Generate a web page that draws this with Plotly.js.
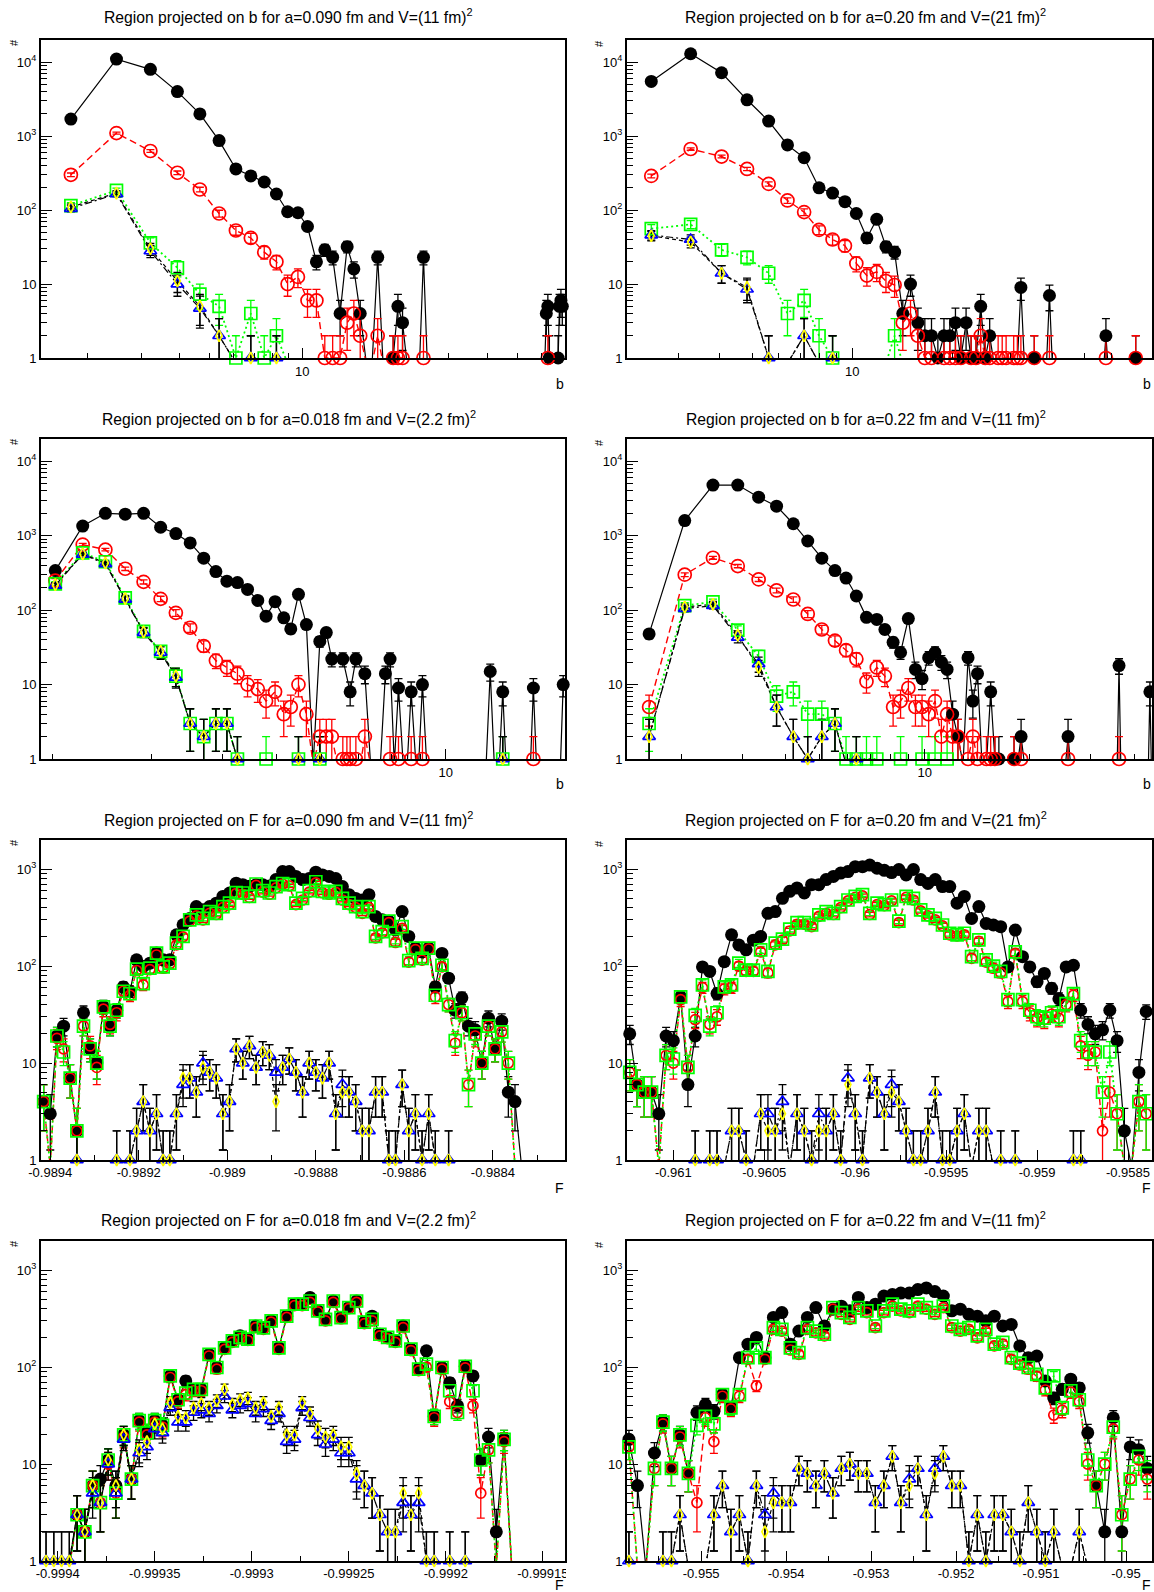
<!DOCTYPE html>
<html>
<head>
<meta charset="utf-8">
<script src="https://cdn.plot.ly/plotly-3.0.1.min.js"></script>
<style>
  html, body { margin: 0; padding: 0; background: #ffffff; }
  #chart { width: 1154px; height: 1592px; }
</style>
</head>
<body>
<div id="chart"></div>
<script>
// ---------------- titles and tick labels ----------------
const titles = [
  'Region projected on b for a=0.090 fm and V=(11 fm)<sup>2</sup>',
  'Region projected on b for a=0.20 fm and V=(21 fm)<sup>2</sup>',
  'Region projected on b for a=0.018 fm and V=(2.2 fm)<sup>2</sup>',
  'Region projected on b for a=0.22 fm and V=(11 fm)<sup>2</sup>',
  'Region projected on F for a=0.090 fm and V=(11 fm)<sup>2</sup>',
  'Region projected on F for a=0.20 fm and V=(21 fm)<sup>2</sup>',
  'Region projected on F for a=0.018 fm and V=(2.2 fm)<sup>2</sup>',
  'Region projected on F for a=0.22 fm and V=(11 fm)<sup>2</sup>'
];
const b_ticks = [10];
const b_labels = ['10'];
const y_ticks = [1, 10, 100, 1000, 10000];
const y_labels = ['1', '10', '10<sup>2</sup>', '10<sup>3</sup>', '10<sup>4</sup>'];
const f1_ticks = [-0.9894, -0.9892, -0.989, -0.9888, -0.9886, -0.9884];
const f1_labels = ['-0.9894', '-0.9892', '-0.989', '-0.9888', '-0.9886', '-0.9884'];
const f2_ticks = [-0.961, -0.9605, -0.96, -0.9595, -0.959, -0.9585];
const f2_labels = ['-0.961', '-0.9605', '-0.96', '-0.9595', '-0.959', '-0.9585'];
const f3_ticks = [-0.9994, -0.99935, -0.9993, -0.99925, -0.9992, -0.99915];
const f3_labels = ['-0.9994', '-0.99935', '-0.9993', '-0.99925', '-0.9992', '-0.99915'];
const f4_ticks = [-0.955, -0.954, -0.953, -0.952, -0.951, -0.95];
const f4_labels = ['-0.955', '-0.954', '-0.953', '-0.952', '-0.951', '-0.95'];

// ---------------- b projection, a=0.090 fm, V=(11 fm)^2 ----------------
const b1_black_x = [1.77, 2.49, 3.21, 3.93, 4.65, 5.37, 6.09, 6.81, 7.53, 8.25, 8.97, 9.69, 10.41, 11.13, 11.85, 12.57, 13.29, 14.01, 14.73, 15.45, 16.17, 16.89, 17.61, 18.33, 19.05, 19.77, 20.49, 21.21, 21.93, 24.09, 24.81, 25.53, 61.53, 62.25, 62.97, 63.69, 64.41, 67.29, 68.01, 68.73, 69.45, 70.17];
const b1_black_y = [1700, 11000, 8000, 4000, 2000, 870, 360, 290, 240, 165, 95, 92, 60, 20, 29, 23, 4, 32, 16, 4, 0, 0, 23, 0, 0, 1, 5, 3, 0, 0, 23, 0, 0, 4, 5, 1, 0, 0, 1, 5, 6, 5];
const b1_red_x = [1.77, 2.49, 3.21, 3.93, 4.65, 5.37, 6.09, 6.81, 7.53, 8.25, 8.97, 9.69, 10.41, 11.13, 11.85, 12.57, 13.29, 14.01, 14.73, 15.45, 16.17, 16.89, 17.61, 18.33, 19.05, 19.77, 20.49, 21.21, 21.93, 24.09, 24.81, 25.53, 62.25, 62.97, 63.69];
const b1_red_y = [300, 1100, 630, 320, 190, 90, 53, 42, 27, 20, 10, 12.5, 6, 6, 1, 1, 1, 3, 4, 2, 0, 0, 2, 0, 0, 1, 1, 1, 0, 0, 1, 0, 0, 1, 0];
const b1_low_x = [1.77, 2.49, 3.21, 3.93, 4.65, 5.37, 6.09, 6.81, 7.53, 8.25, 8.97];
const b1_green_y = [115, 185, 36, 16.6, 7.3, 5, 1, 4, 1, 2, 0];
const b1_blue_y = [105, 165, 28, 10, 4.7, 2, 0, 1, 0, 1, 0];
const b1_yellow_y = [110, 170, 30, 11, 5, 2, 0, 1, 0, 1, 0];

// ---------------- b projection, a=0.20 fm, V=(21 fm)^2 ----------------
const b2_black_x = [2.49, 3.27, 4.05, 4.83, 5.61, 6.39, 7.17, 7.95, 8.73, 9.51, 10.29, 11.07, 11.85, 12.63, 13.41, 14.19, 14.97, 15.75, 16.53, 17.31, 18.09, 18.87, 19.65, 20.43, 21.21, 21.99, 22.77, 23.55, 24.33, 25.11, 25.89, 26.67, 31.35, 32.13, 32.91, 34.47, 35.25, 36.03, 38.37, 39.15, 39.93, 57.09, 57.87, 58.65, 70.35, 71.13, 71.91];
const b2_black_y = [5500, 13000, 7200, 3100, 1600, 760, 510, 200, 170, 130, 90, 42, 75, 32, 27, 4, 10, 3, 2, 2, 1, 2, 2, 3, 1, 3, 1, 1, 5, 1, 2, 0, 0, 9, 0, 0, 1, 0, 0, 7, 0, 0, 2, 0, 0, 1, 0];
const b2_red_x = [2.49, 3.27, 4.05, 4.83, 5.61, 6.39, 7.17, 7.95, 8.73, 9.51, 10.29, 11.07, 11.85, 12.63, 13.41, 14.19, 14.97, 15.75, 16.53, 17.31, 18.09, 18.87, 19.65, 20.43, 21.21, 21.99, 22.77, 23.55, 24.33, 25.11, 25.89, 26.67, 27.45, 28.23, 29.01, 29.79, 30.57, 31.35, 32.13, 32.91, 34.47, 35.25, 36.03, 38.37, 39.15, 39.93, 57.09, 57.87, 58.65, 70.35, 71.13, 71.91];
const b2_red_y = [290, 670, 530, 360, 226, 135, 94, 54, 40, 33, 19, 13, 14.6, 11, 9.7, 3, 4, 2, 1, 1, 0, 1, 1, 1, 1, 0, 1, 1, 2, 1, 1, 0, 1, 1, 1, 0, 1, 1, 1, 0, 0, 1, 0, 0, 1, 0, 0, 1, 0, 0, 1, 0];
const b2_green_x = [2.49, 3.27, 4.05, 4.83, 5.61, 6.39, 7.17, 7.95, 8.73, 9.51, 12.63, 13.41, 14.19];
const b2_green_y = [56, 64, 29, 23, 14, 4, 6, 2, 1, 0, 0, 2, 0];
const b2_low_x = [2.49, 3.27, 4.05, 4.83, 5.61, 6.39, 7.17, 7.95, 8.73, 9.51];
const b2_blue_y = [46, 40, 14, 8.5, 1, 0, 2, 0, 1, 0];
const b2_yellow_y = [45, 37, 14, 9, 1, 0, 2, 0, 1, 0];

// ---------------- b projection, a=0.018 fm, V=(2.2 fm)^2 ----------------
const b3_black_x = [2.02, 2.26, 2.48, 2.69, 2.90, 3.11, 3.31, 3.51, 3.71, 3.90, 4.08, 4.26, 4.44, 4.63, 4.79, 4.97, 5.15, 5.30, 5.47, 5.65, 5.81, 5.97, 6.13, 6.27, 6.56, 6.76, 6.92, 7.18, 7.35, 7.65, 7.81, 7.96, 8.10, 8.24, 8.40, 8.54, 8.68, 8.85, 8.95, 9.09, 9.25, 11.8, 12.0, 12.2, 12.45, 12.63, 12.8, 14.15, 14.32, 14.5, 16.0, 16.18];
const b3_black_y = [340, 1350, 2000, 1950, 2000, 1300, 1070, 800, 500, 330, 245, 235, 190, 135, 83, 130, 79, 56, 163, 64, 0, 38, 50, 22, 22, 8, 22, 14, 0, 0, 14, 22, 0, 9, 0, 0, 8, 0, 0, 10, 0, 0, 15, 0, 0, 8, 0, 0, 9, 0, 0, 10];
const b3_red_x = [2.02, 2.26, 2.48, 2.69, 2.90, 3.11, 3.31, 3.51, 3.71, 3.90, 4.08, 4.26, 4.44, 4.63, 4.79, 4.97, 5.15, 5.30, 5.47, 5.65, 5.81, 5.97, 6.13, 6.27, 6.42, 6.56, 6.67, 6.76, 6.92, 7.05, 7.18, 7.35, 7.81, 7.96, 8.10, 8.24, 8.40, 8.54, 8.68, 8.85, 8.95, 9.09, 9.25, 14.15, 14.32, 14.5];
const b3_red_y = [250, 760, 650, 360, 240, 142, 92, 58, 33, 21, 17, 14, 10, 8.7, 6, 8, 4, 5, 10, 4, 0, 2, 2, 2, 0, 1, 1, 1, 1, 0, 2, 0, 0, 1, 0, 1, 0, 0, 1, 0, 0, 1, 0, 0, 1, 0];
const b3_low_x = [2.02, 2.26, 2.48, 2.69, 2.90, 3.11, 3.31, 3.51, 3.71, 3.90, 4.08, 4.26, 4.44, 4.63, 4.79, 4.97, 5.15, 5.30, 5.47, 5.65, 5.81, 5.97, 6.13, 12.45, 12.63, 12.8];
const b3_green_y = [226, 590, 447, 146, 52, 28, 13, 3, 2, 3, 3, 1, 0, 0, 1, 0, 0, 0, 1, 0, 0, 1, 0, 0, 1, 0];
const b3_blue_y = [215, 560, 420, 140, 50, 27, 12.5, 3, 2, 3, 3, 1, 0, 0, 0, 0, 0, 0, 1, 0, 0, 1, 0, 0, 1, 0];
const b3_yellow_y = [220, 570, 430, 143, 51, 28, 13, 3, 2, 3, 3, 1, 0, 0, 0, 0, 0, 0, 1, 0, 0, 1, 0, 0, 1, 0];

// ---------------- b projection, a=0.22 fm, V=(11 fm)^2 ----------------
const b4_black_x = [1.62, 2.05, 2.47, 2.91, 3.34, 3.76, 4.20, 4.62, 5.07, 5.53, 5.95, 6.37, 6.81, 7.29, 7.69, 8.12, 8.53, 8.98, 9.41, 9.83, 10.27, 10.71, 11.17, 11.60, 12.03, 12.46, 12.89, 13.32, 13.75, 14.18, 14.61, 15.04, 15.47, 15.90, 16.33, 16.76, 17.62, 18.05, 18.48, 18.91, 19.34, 25.36, 25.79, 26.22, 35.68, 36.11, 36.54, 43.85, 44.28, 44.71];
const b4_black_y = [48, 1600, 4800, 4800, 3300, 2500, 1450, 850, 500, 340, 270, 155, 80, 75, 55, 37, 27, 77, 16, 12, 23, 27, 20, 16, 4, 2, 0, 23, 6, 14, 0, 0, 8, 1, 1, 0, 0, 1, 0, 2, 0, 0, 2, 0, 0, 18, 0, 0, 8, 0];
const b4_red_x = [1.62, 2.05, 2.47, 2.91, 3.34, 3.76, 4.20, 4.62, 5.07, 5.53, 5.95, 6.37, 6.81, 7.29, 7.69, 8.12, 8.53, 8.98, 9.41, 9.83, 10.27, 10.71, 11.17, 11.60, 12.03, 12.46, 12.89, 13.32, 13.75, 14.18, 14.61, 15.04, 15.47, 15.90, 16.33, 17.62, 18.05, 18.48, 18.91, 19.34, 25.36, 25.79, 26.22, 35.68, 36.11, 36.54];
const b4_red_y = [5, 300, 506, 391, 259, 184, 139, 89, 55, 39, 29, 22, 11, 17, 13, 5, 6, 9, 5, 5, 4, 6, 2, 4, 2, 2, 0, 1, 2, 1, 0, 1, 1, 1, 0, 0, 1, 0, 1, 0, 0, 1, 0, 0, 1, 0];
const b4_green_x = [1.62, 2.05, 2.47, 2.91, 3.34, 3.76, 4.20, 4.62, 5.07, 5.53, 5.95, 6.37, 6.81, 7.29, 7.69, 8.12, 8.53, 8.98, 9.41, 9.83, 10.27, 10.71, 11.17, 11.60, 12.03];
const b4_green_y = [3, 115, 129, 54, 24, 7, 8, 4, 4, 3, 1, 1, 1, 1, 0, 0, 1, 0, 0, 1, 0, 1, 0, 1, 0];
const b4_low_x = [1.62, 2.05, 2.47, 2.91, 3.34, 3.76, 4.20, 4.62, 5.07, 5.53, 5.95, 6.37, 6.81];
const b4_blue_y = [2, 105, 115, 43, 19, 5, 2, 1, 2, 3, 0, 1, 0];
const b4_yellow_y = [2, 110, 120, 46, 17, 5, 2, 1, 2, 3, 0, 1, 0];

// ---------------- F projection, a=0.090 fm, V=(11 fm)^2 ----------------
const f1_x = [-0.989415, -0.989400, -0.989385, -0.989370, -0.989355, -0.989340, -0.989325, -0.989310, -0.989295, -0.989280,
  -0.989265, -0.989250, -0.989235, -0.989220, -0.989205, -0.989190, -0.989175, -0.989160, -0.989145, -0.989130,
  -0.989115, -0.989100, -0.989085, -0.989070, -0.989055, -0.989040, -0.989025, -0.989010, -0.988995, -0.988980,
  -0.988965, -0.988950, -0.988935, -0.988920, -0.988905, -0.988890, -0.988875, -0.988860, -0.988845, -0.988830,
  -0.988815, -0.988800, -0.988785, -0.988770, -0.988755, -0.988740, -0.988725, -0.988710, -0.988695, -0.988680,
  -0.988665, -0.988650, -0.988635, -0.988620, -0.988605, -0.988590, -0.988575, -0.988560, -0.988545, -0.988530,
  -0.988515, -0.988500, -0.988485, -0.988470, -0.988455, -0.988440, -0.988425, -0.988410, -0.988395, -0.988380,
  -0.988365, -0.988350, -0.988335];
const f1_black = [4, 3, 19, 24, 7, 2, 33, 14, 10, 38,
  24, 35, 61, 55, 116, 99, 107, 136, 116, 116,
  210, 266, 310, 411, 380, 411, 445, 522, 567, 716,
  690, 665, 690, 690, 670, 780, 943, 943, 840, 780,
  800, 930, 870, 840, 800, 660, 545, 498, 480, 545,
  325, 300, 290, 236, 365, 202, 153, 140, 153, 61,
  135, 75, 35, 47, 24, 22, 10, 29, 14, 27,
  5, 4, 0];
const f1_red = [4, 0, 18, 14, 7, 2, 24, 15, 9, 36,
  25, 33, 55, 50, 90, 64, 92, 130, 95, 105,
  165, 200, 290, 330, 300, 350, 340, 400, 430, 560,
  550, 510, 680, 580, 550, 640, 700, 670, 430, 480,
  580, 720, 570, 550, 575, 480, 430, 400, 350, 400,
  195, 220, 280, 175, 245, 110, 148, 115, 150, 48,
  98, 40, 16, 33, 6, 19, 10, 24, 14, 21,
  10, 0, 0];
const f1_green = [4, 0, 19, 13, 7, 2, 24, 14, 10, 38,
  24, 35, 55, 52, 93, 66, 95, 136, 98, 107,
  172, 202, 300, 337, 310, 365, 350, 411, 445, 573,
  567, 522, 702, 600, 567, 660, 710, 690, 445, 498,
  600, 740, 590, 567, 590, 498, 445, 411, 365, 411,
  202, 226, 290, 183, 255, 114, 153, 120, 153, 50,
  102, 40, 17, 33, 6, 20, 10, 24, 14, 21,
  10, 0, 0];
const f1_blue = [0, 0, 0, 0, 0, 1, 0, 0, 0, 0,
  0, 1, 0, 1, 2, 4, 2, 3, 1, 1,
  3, 6, 7, 5, 10, 8, 7, 3, 4, 14,
  10, 15, 9, 13, 12, 8, 9, 11, 8, 5,
  10, 8, 7, 10, 3, 6, 5, 4, 2, 2,
  5, 5, 1, 1, 6, 2, 3, 1, 3, 1,
  0, 1, 0, 0, 0, 0, 0, 0, 0, 0,
  0, 0, 0];
const f1_yellow = [0, 0, 0, 0, 0, 1, 0, 0, 0, 0,
  0, 1, 0, 1, 2, 4, 2, 3, 1, 1,
  3, 7, 7, 5, 9, 8, 7, 3, 4, 14,
  10, 15, 9, 13, 12, 4, 9, 11, 8, 5,
  10, 8, 7, 10, 3, 5, 5, 4, 2, 2,
  5, 5, 1, 1, 6, 2, 3, 1, 3, 1,
  0, 1, 0, 0, 0, 0, 0, 0, 0, 0,
  0, 0, 0];

// ---------------- F projection, a=0.20 fm, V=(21 fm)^2 ----------------
const f2_x = [-0.96124, -0.96120, -0.96116, -0.96112, -0.96108, -0.96104, -0.96100, -0.96096, -0.96092, -0.96088,
  -0.96084, -0.96080, -0.96076, -0.96072, -0.96068, -0.96064, -0.96060, -0.96056, -0.96052, -0.96048,
  -0.96044, -0.96040, -0.96036, -0.96032, -0.96028, -0.96024, -0.96020, -0.96016, -0.96012, -0.96008,
  -0.96004, -0.96000, -0.95996, -0.95992, -0.95988, -0.95984, -0.95980, -0.95976, -0.95972, -0.95968,
  -0.95964, -0.95960, -0.95956, -0.95952, -0.95948, -0.95944, -0.95940, -0.95936, -0.95932, -0.95928,
  -0.95924, -0.95920, -0.95916, -0.95912, -0.95908, -0.95904, -0.95900, -0.95896, -0.95892, -0.95888,
  -0.95884, -0.95880, -0.95876, -0.95872, -0.95868, -0.95864, -0.95860, -0.95856, -0.95852, -0.95848,
  -0.95844, -0.95840];
const f2_black = [20, 6, 5, 5, 3, 19, 17, 48, 6, 19,
  98, 88, 52, 111, 210, 165, 147, 185, 202, 350,
  365, 500, 590, 640, 567, 690, 690, 780, 840, 910,
  943, 1060, 1060, 1100, 1020, 970, 920, 990, 870, 990,
  780, 710, 780, 660, 660, 445, 522, 310, 411, 275,
  265, 255, 98, 235, 125, 98, 69, 84, 59, 46,
  98, 102, 35, 25, 20, 22, 35, 17, 2, 0,
  8, 34];
const f2_red = [8, 6, 5, 5, 0, 12, 10, 45, 9, 28,
  60, 25, 30, 58, 60, 100, 88, 88, 140, 85,
  165, 185, 230, 270, 270, 255, 325, 350, 340, 400,
  470, 510, 530, 340, 430, 420, 470, 280, 510, 480,
  370, 330, 300, 260, 210, 205, 210, 120, 180, 110,
  95, 85, 43, 135, 43, 33, 29, 28, 32, 29,
  40, 50, 15, 12, 13, 2, 5, 3, 0, 0,
  4, 3];
const f2_green = [8, 6, 5, 5, 0, 12, 11, 48, 9, 31,
  64, 24, 33, 61, 64, 107, 91, 91, 147, 88,
  172, 190, 240, 280, 280, 265, 337, 365, 350, 411,
  480, 522, 545, 350, 445, 430, 480, 290, 522, 498,
  380, 337, 310, 265, 218, 210, 218, 125, 186, 116,
  100, 88, 45, 140, 45, 35, 30, 29, 33, 30,
  41, 52, 17, 13, 13, 5, 13, 3, 0, 0,
  4, 3];
const f2_blue = [0, 0, 0, 0, 0, 0, 0, 0, 0, 1,
  0, 1, 1, 0, 2, 2, 1, 0, 3, 3,
  2, 4, 0, 3, 2, 1, 3, 2, 3, 1,
  7, 3, 1, 7, 5, 3, 6, 4, 2, 1,
  1, 2, 5, 1, 1, 2, 3, 0, 2, 2,
  0, 1, 0, 1, 0, 0, 0, 0, 0, 0,
  0, 1, 1, 0, 0, 0, 0, 0, 0, 0,
  0, 0];
const f2_yellow = [0, 0, 0, 0, 0, 0, 0, 0, 0, 1,
  0, 1, 1, 0, 2, 2, 1, 0, 3, 2,
  2, 3, 0, 3, 2, 1, 2, 2, 3, 1,
  6, 3, 1, 7, 5, 3, 5, 4, 2, 1,
  1, 2, 5, 1, 1, 2, 3, 0, 2, 2,
  0, 1, 0, 1, 0, 0, 0, 0, 0, 0,
  0, 1, 1, 0, 0, 0, 0, 0, 0, 0,
  0, 0];

// ---------------- F projection, a=0.018 fm, V=(2.2 fm)^2 ----------------
const f3_x = [-0.999406, -0.999402, -0.999398, -0.999394, -0.999390, -0.999386, -0.999382, -0.999378, -0.999374, -0.999370,
  -0.999366, -0.999362, -0.999358, -0.999354, -0.999350, -0.999346, -0.999342, -0.999338, -0.999334, -0.999330,
  -0.999326, -0.999322, -0.999318, -0.999314, -0.999310, -0.999306, -0.999302, -0.999298, -0.999294, -0.999290,
  -0.999286, -0.999282, -0.999278, -0.999274, -0.999270, -0.999266, -0.999262, -0.999258, -0.999254, -0.999250,
  -0.999246, -0.999242, -0.999238, -0.999234, -0.999230, -0.999226, -0.999222, -0.999218, -0.999214, -0.999210,
  -0.999206, -0.999202, -0.999198, -0.999194, -0.999190, -0.999186, -0.999182, -0.999178, -0.999174, -0.999170,
  -0.999166];
const f3_black = [0, 0, 0, 0, 3, 2, 6, 7, 11, 6,
  20, 7, 28, 21, 28, 25, 81, 46, 72, 59,
  59, 135, 99, 158, 186, 210, 194, 265, 254, 300,
  158, 335, 445, 445, 522, 380, 311, 480, 324, 411,
  480, 290, 335, 218, 202, 186, 265, 153, 95, 147,
  31, 99, 69, 40, 102, 81, 11, 19, 2, 18,
  0];
const f3_red = [0, 0, 0, 0, 3, 2, 6, 4, 10, 5,
  19, 7, 27, 20, 27, 24, 78, 44, 52, 57,
  57, 130, 95, 152, 180, 196, 188, 255, 245, 290,
  152, 325, 430, 430, 465, 370, 300, 465, 315, 400,
  465, 280, 300, 210, 196, 180, 255, 148, 92, 100,
  30, 95, 44, 34, 98, 40, 5, 14, 0, 17,
  0];
const f3_green = [0, 0, 0, 0, 3, 2, 6, 4, 11, 5,
  20, 7, 28, 21, 28, 25, 81, 46, 54, 59,
  59, 135, 99, 158, 186, 202, 194, 265, 254, 300,
  158, 335, 445, 445, 480, 380, 311, 480, 324, 411,
  480, 290, 311, 218, 202, 186, 265, 153, 95, 107,
  31, 99, 57, 34, 102, 57, 11, 14, 0, 18,
  0];
const f3_blue = [1, 1, 1, 1, 3, 2, 5, 4, 10, 5,
  18, 7, 13, 15, 23, 21, 38, 27, 27, 34,
  36, 33, 40, 50, 36, 40, 42, 33, 37, 28,
  33, 17, 18, 38, 30, 20, 16, 18, 13, 13,
  7, 6, 5, 3, 2, 2, 4, 3, 4, 1,
  1, 0, 1, 0, 1, 0, 0, 0, 0, 0,
  0];
const f3_yellow = [1, 1, 1, 1, 3, 2, 6, 4, 11, 6,
  20, 7, 14, 17, 26, 23, 43, 31, 30, 38,
  42, 38, 45, 59, 41, 46, 48, 38, 43, 31,
  38, 20, 20, 43, 33, 23, 19, 20, 15, 15,
  8, 6, 5, 3, 2, 2, 5, 3, 5, 1,
  1, 0, 1, 0, 1, 0, 0, 0, 0, 0,
  0];

// ---------------- F projection, a=0.22 fm, V=(11 fm)^2 ----------------
const f4_x = [-0.95585, -0.95575, -0.95565, -0.95555, -0.95545, -0.95535, -0.95525, -0.95515, -0.95505, -0.95495,
  -0.95485, -0.95475, -0.95465, -0.95455, -0.95445, -0.95435, -0.95425, -0.95415, -0.95405, -0.95395,
  -0.95385, -0.95375, -0.95365, -0.95355, -0.95345, -0.95335, -0.95325, -0.95315, -0.95305, -0.95295,
  -0.95285, -0.95275, -0.95265, -0.95255, -0.95245, -0.95235, -0.95225, -0.95215, -0.95205, -0.95195,
  -0.95185, -0.95175, -0.95165, -0.95155, -0.95145, -0.95135, -0.95125, -0.95115, -0.95105, -0.95095,
  -0.95085, -0.95075, -0.95065, -0.95055, -0.95045, -0.95035, -0.95025, -0.95015, -0.95005, -0.94995,
  -0.94985, -0.94975];
const f4_black = [18, 6, 0, 13, 27, 9, 20, 8, 34, 41,
  35, 52, 38, 125, 172, 202, 125, 325, 365, 172,
  235, 325, 411, 265, 395, 425, 380, 522, 411, 445,
  540, 560, 580, 580, 630, 655, 600, 540, 380, 395,
  350, 335, 300, 335, 265, 275, 165, 125, 130, 72,
  48, 59, 75, 61, 21, 6, 2, 30, 2, 15,
  14, 9];
const f4_red = [15, 0, 0, 9, 26, 9, 19, 8, 4, 30,
  17, 50, 37, 50, 120, 64, 120, 245, 235, 150,
  135, 245, 225, 210, 395, 350, 310, 395, 365, 255,
  365, 425, 380, 365, 425, 395, 350, 410, 255, 235,
  245, 200, 235, 165, 172, 120, 105, 95, 80, 58,
  32, 36, 55, 44, 10, 6, 10, 23, 3, 7,
  11, 7];
const f4_green = [15, 0, 0, 9, 27, 9, 20, 8, 25, 31,
  26, 52, 38, 52, 125, 158, 125, 255, 245, 158,
  141, 255, 235, 218, 411, 365, 325, 411, 380, 265,
  380, 445, 395, 380, 445, 411, 365, 425, 265, 245,
  255, 210, 245, 172, 180, 125, 110, 99, 84, 61,
  81, 38, 57, 46, 11, 6, 10, 24, 3, 7,
  12, 8];
const f4_blue = [1, 0, 0, 0, 1, 1, 3, 0, 0, 0,
  3, 6, 2, 3, 1, 6, 3, 5, 4, 4,
  9, 8, 6, 8, 5, 9, 10, 8, 8, 4,
  6, 12, 4, 7, 9, 3, 9, 12, 6, 6,
  1, 3, 1, 3, 3, 2, 1, 4, 2, 1,
  2, 0, 0, 2, 0, 0, 0, 0, 0, 0,
  0, 0];
const f4_yellow = [1, 0, 0, 0, 1, 1, 3, 0, 0, 0,
  3, 6, 2, 3, 1, 6, 2, 4, 4, 4,
  9, 8, 6, 8, 5, 9, 10, 8, 8, 4,
  6, 12, 4, 6, 9, 3, 8, 12, 6, 6,
  1, 3, 1, 3, 3, 2, 1, 4, 2, 1,
  2, 0, 0, 2, 0, 0, 0, 0, 0, 0,
  0, 0];

// ---------------- page geometry (pixels) ----------------
const W = 1154, H = 1592;
const FONT = '"Liberation Sans", Arial, Helvetica, sans-serif';
const COLS = [[41, 565], [627, 1152]];
const ROWS = [[40, 358], [439, 759], [840, 1160], [1241, 1561]];
const TITLE_Y = [16, 418, 819, 1219];
const AXIS_TITLE_Y = [384, 784, 1188, 1585];
// empty bins sit just under the log floor so the polyline drops onto the axis
const EMPTY_DRAW = 0.85;

const STYLE = {
  black:  {symbol: 'circle',            mcolor: '#000000', lcolor: '#000000', dash: 'solid',            lw: 1.2, ecolor: '#000000'},
  red:    {symbol: 'circle-open',       mcolor: '#ff0000', lcolor: '#ff0000', dash: '7px,4px',          lw: 1.4, ecolor: '#ff0000'},
  green:  {symbol: 'square-open',       mcolor: '#00ff00', lcolor: '#00ff00', dash: '2px,3px',          lw: 1.8, ecolor: '#00ff00'},
  blue:   {symbol: 'triangle-up-open',  mcolor: '#0000ff', lcolor: '#000000', dash: '7px,3px,2px,3px',  lw: 1.2, ecolor: '#000000'},
  yellow: {symbol: 'diamond-tall-open', mcolor: '#ffff00', lcolor: '#000000', dash: '4px,3px',          lw: 1.2, ecolor: '#000000'}
};
const SIZE_B = {black: 13, red: 13, green: 12, blue: 11, yellow: 8.5};
const SIZE_F = {black: 13, red: 10, green: 12, blue: 11, yellow: 8.5};
const ORDER = ['black', 'red', 'green', 'blue', 'yellow'];

const panels = [
  {col: 0, row: 0, kind: 'b', xr: [1.415, 71.6], ytop: 4.3,
   s: {black: [b1_black_x, b1_black_y], red: [b1_red_x, b1_red_y], green: [b1_low_x, b1_green_y], blue: [b1_low_x, b1_blue_y], yellow: [b1_low_x, b1_yellow_y]}},
  {col: 1, row: 0, kind: 'b', xr: [2.105, 79.6], ytop: 4.3,
   s: {black: [b2_black_x, b2_black_y], red: [b2_red_x, b2_red_y], green: [b2_green_x, b2_green_y], blue: [b2_low_x, b2_blue_y], yellow: [b2_low_x, b2_yellow_y]}},
  {col: 0, row: 1, kind: 'b', xr: [1.905, 16.3], ytop: 4.3,
   s: {black: [b3_black_x, b3_black_y], red: [b3_red_x, b3_red_y], green: [b3_low_x, b3_green_y], blue: [b3_low_x, b3_blue_y], yellow: [b3_low_x, b3_yellow_y]}},
  {col: 1, row: 1, kind: 'b', xr: [1.40, 44.9], ytop: 4.3,
   s: {black: [b4_black_x, b4_black_y], red: [b4_red_x, b4_red_y], green: [b4_green_x, b4_green_y], blue: [b4_low_x, b4_blue_y], yellow: [b4_low_x, b4_yellow_y]}},
  {col: 0, row: 2, kind: 'F', xr: [-0.989421, -0.988237], ytop: 3.3, ticks: f1_ticks, labels: f1_labels,
   s: {black: [f1_x, f1_black], red: [f1_x, f1_red], green: [f1_x, f1_green], blue: [f1_x, f1_blue], yellow: [f1_x, f1_yellow]}},
  {col: 1, row: 2, kind: 'F', xr: [-0.961255, -0.958368], ytop: 3.3, ticks: f2_ticks, labels: f2_labels,
   s: {black: [f2_x, f2_black], red: [f2_x, f2_red], green: [f2_x, f2_green], blue: [f2_x, f2_blue], yellow: [f2_x, f2_yellow]}},
  {col: 0, row: 3, kind: 'F', xr: [-0.9994086, -0.9991386], ytop: 3.3, ticks: f3_ticks, labels: f3_labels,
   s: {black: [f3_x, f3_black], red: [f3_x, f3_red], green: [f3_x, f3_green], blue: [f3_x, f3_blue], yellow: [f3_x, f3_yellow]}},
  {col: 1, row: 3, kind: 'F', xr: [-0.955873, -0.949694], ytop: 3.3, ticks: f4_ticks, labels: f4_labels,
   s: {black: [f4_x, f4_black], red: [f4_x, f4_red], green: [f4_x, f4_green], blue: [f4_x, f4_blue], yellow: [f4_x, f4_yellow]}}
];

const traces = [];
const annotations = [];
const shapes = [];
const layout = {
  width: W, height: H,
  margin: {l: 0, r: 0, t: 0, b: 0, pad: 0},
  paper_bgcolor: '#ffffff', plot_bgcolor: '#ffffff',
  showlegend: false, hovermode: false,
  font: {family: FONT, size: 13, color: '#000000'}
};

const axisBase = {
  showline: true, mirror: true, linecolor: '#000000', linewidth: 2,
  ticks: 'inside', tickcolor: '#000000', tickwidth: 1,
  showgrid: false, zeroline: false, fixedrange: true,
  tickfont: {family: FONT, size: 13, color: '#000000'}
};

panels.forEach((p, i) => {
  const n = i + 1;
  const xid = n === 1 ? 'x' : 'x' + n;
  const yid = n === 1 ? 'y' : 'y' + n;
  const oid = 'y' + (n + 8);
  const [px0, px1] = COLS[p.col];
  const [py0, py1] = ROWS[p.row];
  const xdom = [px0 / W, px1 / W];
  const ydom = [1 - py1 / H, 1 - py0 / H];

  // x axis
  let xa;
  if (p.kind === 'b') {
    const minor = [];
    for (let d = 0; d <= 2; d++) {
      for (let m = 2; m <= 9; m++) {
        const v = m * Math.pow(10, d);
        if (v > p.xr[0] && v < p.xr[1]) minor.push(v);
      }
    }
    xa = Object.assign({}, axisBase, {
      type: 'log', range: [Math.log10(p.xr[0]), Math.log10(p.xr[1])],
      tickmode: 'array', tickvals: b_ticks, ticktext: b_labels, ticklen: 10,
      minor: {tickmode: 'array', tickvals: minor, ticks: 'inside', ticklen: 5, tickcolor: '#000000', tickwidth: 1, showgrid: false}
    });
  } else {
    const step = p.ticks[1] - p.ticks[0];
    const minor = [];
    for (let k = -1; k < p.ticks.length; k++) {
      const v = p.ticks[0] + (k + 0.5) * step;
      if (v > p.xr[0] && v < p.xr[1]) minor.push(v);
    }
    xa = Object.assign({}, axisBase, {
      type: 'linear', range: p.xr,
      tickmode: 'array', tickvals: p.ticks, ticktext: p.labels, ticklen: 10,
      ticklabelstandoff: -1,
      minor: {tickmode: 'array', tickvals: minor, ticks: 'inside', ticklen: 5, tickcolor: '#000000', tickwidth: 1, showgrid: false}
    });
  }
  xa.domain = xdom;
  xa.anchor = yid;
  layout[n === 1 ? 'xaxis' : 'xaxis' + n] = xa;

  // y axis (log counts) plus an invisible twin that carries the markers
  const nMajor = p.ytop > 4 ? 5 : 4;
  const yminor = [];
  for (let d = 0; d <= 4; d++) {
    for (let m = 2; m <= 9; m++) {
      const v = m * Math.pow(10, d);
      if (Math.log10(v) < p.ytop) yminor.push(v);
    }
  }
  layout[n === 1 ? 'yaxis' : 'yaxis' + n] = Object.assign({}, axisBase, {
    type: 'log', range: [0, p.ytop], domain: ydom, anchor: xid,
    tickmode: 'array', tickvals: y_ticks.slice(0, nMajor), ticktext: y_labels.slice(0, nMajor), ticklen: 11,
    minor: {tickmode: 'array', tickvals: yminor, ticks: 'inside', ticklen: 6, tickcolor: '#000000', tickwidth: 1, showgrid: false}
  });
  layout['yaxis' + (n + 8)] = {
    type: 'log', range: [0, p.ytop], overlaying: yid, anchor: xid,
    visible: false, fixedrange: true, showgrid: false, zeroline: false
  };

  const sizes = p.kind === 'b' ? SIZE_B : SIZE_F;

  // lines and error bars (clipped to the frame)
  ORDER.forEach(name => {
    const st = STYLE[name];
    const [xs, ys] = p.s[name];
    traces.push({
      type: 'scatter', mode: 'lines', xaxis: xid, yaxis: yid,
      x: xs, y: ys.map(v => (v > 0 ? v : EMPTY_DRAW)),
      line: {color: st.lcolor, width: st.lw, dash: st.dash},
      error_y: {type: 'data', array: ys.map(v => (v > 0 ? Math.sqrt(v) : null)), visible: true,
                color: st.ecolor, thickness: 1.3, width: 4},
      hoverinfo: 'skip', showlegend: false
    });
  });
  // markers (allowed to straddle the frame, like points sitting on the axis)
  ORDER.forEach(name => {
    const st = STYLE[name];
    const [xs, ys] = p.s[name];
    const mx = [], my = [];
    xs.forEach((x, k) => { if (ys[k] > 0) { mx.push(x); my.push(ys[k]); } });
    const marker = {symbol: st.symbol, size: sizes[name], color: st.mcolor};
    if (name !== 'black') marker.line = {color: st.mcolor, width: 1.7};
    traces.push({
      type: 'scatter', mode: 'markers', xaxis: xid, yaxis: oid,
      x: mx, y: my, marker: marker, cliponaxis: false,
      hoverinfo: 'skip', showlegend: false
    });
  });

  // panel texts
  const padCenter = p.col === 0 ? 288.5 : 865.5;
  annotations.push({
    text: titles[i], xref: 'paper', yref: 'paper', x: padCenter / W, y: 1 - TITLE_Y[p.row] / H,
    xanchor: 'center', yanchor: 'middle', showarrow: false,
    font: {family: FONT, size: 15.7, color: '#000000'}
  });
  annotations.push({
    text: '#', xref: 'paper', yref: 'paper', x: (p.col === 0 ? 14 : 599) / W, y: 1 - (py0 + 3) / H,
    xanchor: 'center', yanchor: 'middle', textangle: -90, showarrow: false,
    font: {family: FONT, size: 11, color: '#000000'}
  });
  annotations.push({
    text: p.kind, xref: 'paper', yref: 'paper', x: (px1 + 1) / W, y: 1 - AXIS_TITLE_Y[p.row] / H,
    xanchor: 'right', yanchor: 'middle', showarrow: false,
    font: {family: FONT, size: 14, color: '#000000'}
  });
});

// the last tick label of the lower-left pad is cut at the pad edge
shapes.push({
  type: 'rect', xref: 'paper', yref: 'paper', layer: 'above',
  x0: 566 / W, x1: 598 / W, y0: 1 - 1578 / H, y1: 1 - 1563 / H,
  fillcolor: '#ffffff', line: {width: 0}
});

layout.annotations = annotations;
layout.shapes = shapes;

Plotly.newPlot('chart', traces, layout, {staticPlot: true, displayModeBar: false});
</script>
</body>
</html>
